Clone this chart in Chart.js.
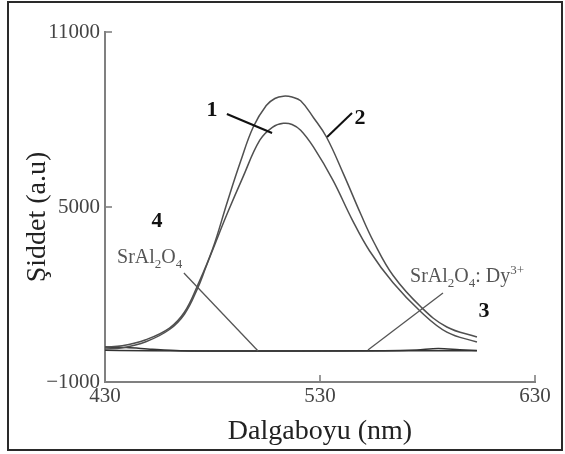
<!DOCTYPE html>
<html>
<head>
<meta charset="utf-8">
<script src="https://cdn.jsdelivr.net/npm/chart.js@4.4.1/dist/chart.umd.min.js"></script>
<style>
  html, body { margin:0; padding:0; background:#fff; width:565px; height:454px; overflow:hidden; }
  #wrap { position:relative; width:565px; height:454px; }
  #frame { position:absolute; left:7px; top:1px; width:552px; height:446px; border:2px solid #2a2a2a; pointer-events:none; }
  canvas { position:absolute; left:0; top:0; }
</style>
</head>
<body>
<div id="wrap">
  <canvas id="c" width="565" height="454"></canvas>
  <div id="frame"></div>
</div>
<script>
// ---- Data ----
// Curve 1: inner emission curve
const wl1  = [430, 438, 449, 460, 467, 473, 477, 481, 487, 494, 502, 508, 513, 517, 521, 527, 536, 545, 553, 564, 577, 589, 603];
const int1 = [130, 170, 380, 800, 1330, 2200, 2950, 3700, 4800, 6000, 7290, 7740, 7870, 7830, 7630, 7050, 5920, 4560, 3500, 2400, 1400, 710, 370];
// Curve 2: outer emission curve
const wl2  = [430, 438, 449, 460, 467, 473, 480, 487, 493, 499, 505, 509, 513, 517, 521, 527, 533, 541, 549, 555, 564, 577, 589, 603];
const int2 = [200, 240, 450, 850, 1400, 2300, 3550, 5200, 6550, 7750, 8480, 8720, 8800, 8770, 8640, 8060, 7400, 6120, 4750, 3800, 2650, 1570, 885, 543];
// Curve 3: near-zero trace (SrAl2O4:Dy3+)
const wl3  = [430, 450, 480, 520, 560, 575, 585, 595, 603];
const int3 = [90, 70, 65, 65, 70, 100, 150, 110, 80];
// Curve 4: near-zero trace (SrAl2O4)
const wl4  = [430, 440, 452, 465, 490, 540, 580, 603];
const int4 = [200, 180, 120, 75, 65, 65, 70, 75];

// Axis ticks
const xTicks = [430, 530, 630];
const yTicks = [-1000, 5000, 11000];

// Annotation anchors (data units): curve numbers
const numLabels = ['1', '2', '3', '4'];
const numWl     = [479.8, 548.6, 606.3, 454.2];
const numInt    = [8325, 8051, 1433, 4519];
// Leader lines (data units): start/end
const leadWlA  = [486.7, 544.9, 466.7, 587.2];
const leadIntA = [8188, 8222, 2736, 2050];
const leadWlB  = [507.7, 533.3, 501.2, 552.3];
const leadIntB = [7537, 7400, 61, 96];
// Compound names (data units of left/baseline)
const nameWl  = [435.6, 571.9];
const nameInt = [3079, 2427];

const xTitle = 'Dalgaboyu (nm)';
const yTitle = 'Şiddet (a.u)';

function pts(xs, ys) { return xs.map((x, i) => ({x: x, y: ys[i]})); }

const serif = "'Liberation Serif', 'Times New Roman', serif";

const overlay = {
  id: 'overlay',
  afterDraw(chart) {
    const ctx = chart.ctx;
    const xs = chart.scales.x, ys = chart.scales.y;
    const area = chart.chartArea;
    ctx.save();
    // inward tick marks
    ctx.strokeStyle = '#808080';
    ctx.lineWidth = 1.6;
    xTicks.forEach(v => {
      const px = xs.getPixelForValue(v);
      ctx.beginPath(); ctx.moveTo(px, area.bottom); ctx.lineTo(px, area.bottom - 7); ctx.stroke();
    });
    yTicks.forEach(v => {
      const py = ys.getPixelForValue(v);
      ctx.beginPath(); ctx.moveTo(area.left, py); ctx.lineTo(area.left + 7, py); ctx.stroke();
    });
    // y axis title (rotated)
    ctx.save();
    ctx.fillStyle = '#222';
    ctx.font = "28px " + serif;
    ctx.textAlign = 'center';
    ctx.textBaseline = 'middle';
    ctx.translate(ys.left + 38, (area.top + area.bottom) / 2 + 10);
    ctx.rotate(-Math.PI / 2);
    ctx.fillText(yTitle, 0, 0);
    ctx.restore();
    // leader lines
    const leadColor = ['#111', '#111', '#555', '#555'];
    const leadWidth = [2, 2, 1.3, 1.3];
    for (let i = 0; i < leadWlA.length; i++) {
      ctx.strokeStyle = leadColor[i];
      ctx.lineWidth = leadWidth[i];
      ctx.beginPath();
      ctx.moveTo(xs.getPixelForValue(leadWlA[i]), ys.getPixelForValue(leadIntA[i]));
      ctx.lineTo(xs.getPixelForValue(leadWlB[i]), ys.getPixelForValue(leadIntB[i]));
      ctx.stroke();
    }
    // curve numbers
    ctx.fillStyle = '#111';
    ctx.font = "bold 22px " + serif;
    ctx.textAlign = 'center';
    ctx.textBaseline = 'middle';
    numLabels.forEach((t, i) => {
      ctx.fillText(t, xs.getPixelForValue(numWl[i]), ys.getPixelForValue(numInt[i]));
    });
    // compound names with sub/superscripts
    ctx.fillStyle = '#555';
    ctx.textAlign = 'left';
    ctx.textBaseline = 'alphabetic';
    const big = "20px " + serif, small = "13px " + serif;
    function runs(parts, x, y) {
      parts.forEach(p => {
        ctx.font = p[1] === 0 ? big : small;
        ctx.fillText(p[0], x, y + p[1]);
        x += ctx.measureText(p[0]).width;
      });
    }
    runs([['SrAl', 0], ['2', 5], ['O', 0], ['4', 5]],
         xs.getPixelForValue(nameWl[0]), ys.getPixelForValue(nameInt[0]));
    runs([['SrAl', 0], ['2', 5], ['O', 0], ['4', 5], [': Dy', 0], ['3+', -8]],
         xs.getPixelForValue(nameWl[1]), ys.getPixelForValue(nameInt[1]));
    ctx.restore();
  }
};

const curveStyle = { showLine: true, pointRadius: 0, borderWidth: 1.5, tension: 0.4, fill: false };
const baseStyle  = { showLine: true, pointRadius: 0, borderWidth: 1.5, cubicInterpolationMode: 'monotone', fill: false };

new Chart(document.getElementById('c'), {
  type: 'scatter',
  data: {
    datasets: [
      Object.assign({ label: '1', data: pts(wl1, int1), borderColor: '#505050' }, curveStyle),
      Object.assign({ label: '2', data: pts(wl2, int2), borderColor: '#505050' }, curveStyle),
      Object.assign({ label: '3', data: pts(wl3, int3), borderColor: '#333' }, baseStyle),
      Object.assign({ label: '4', data: pts(wl4, int4), borderColor: '#333' }, baseStyle)
    ]
  },
  options: {
    responsive: false,
    animation: false,
    layout: { padding: { left: 0, top: 32, right: 30, bottom: 0 } },
    plugins: { legend: { display: false }, tooltip: { enabled: false } },
    scales: {
      x: {
        type: 'linear', min: 430, max: 630,
        afterBuildTicks(s) { s.ticks = xTicks.map(v => ({ value: v })); },
        ticks: { color: '#444', font: { family: serif, size: 21 }, padding: 2, maxRotation: 0, autoSkip: false, callback: v => String(v) },
        grid: { display: false, drawTicks: false },
        border: { display: true, color: '#808080', width: 2 },
        title: { display: true, text: xTitle, color: '#222', font: { family: serif, size: 28 }, padding: { top: 0, bottom: 6 } },
        afterFit(s) { s.height = 72; }
      },
      y: {
        type: 'linear', min: -1000, max: 11000,
        afterBuildTicks(s) { s.ticks = yTicks.map(v => ({ value: v })); },
        ticks: { color: '#444', font: { family: serif, size: 21 }, padding: 5, autoSkip: false, callback: v => String(v).replace('-', '\u2212') },
        grid: { display: false, drawTicks: false },
        border: { display: true, color: '#808080', width: 2 },
        title: { display: false },
        afterFit(s) { s.width = 105; }
      }
    }
  },
  plugins: [overlay]
});
</script>
</body>
</html>
